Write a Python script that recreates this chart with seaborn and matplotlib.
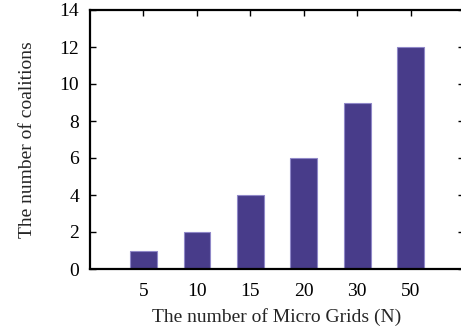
import matplotlib
matplotlib.use("Agg")
import matplotlib.pyplot as plt
import seaborn as sns
import pandas as pd

categories = ["5", "10", "15", "20", "30", "50"]
coalitions = [1, 2, 4, 6, 9, 12]
y_ticks = [0, 2, 4, 6, 8, 10, 12, 14]

sns.set_theme(style="white")
plt.rcParams["font.family"] = ["Liberation Serif", "DejaVu Serif"]

df = pd.DataFrame({"N": categories, "count": coalitions})

fig = plt.figure(figsize=(4.61, 3.33), dpi=100)
ax = fig.add_axes([90 / 461, 64 / 333, 374 / 461, 259 / 333])

sns.barplot(data=df, x="N", y="count", order=categories, color="#483c8a",
            width=0.5, edgecolor="#9088c8", linewidth=0.8, saturation=1, ax=ax)

ax.set_xlim(-1, 6)
ax.set_ylim(0, 14)
ax.set_yticks(y_ticks)
ax.set_xlabel("The number of Micro Grids (N)", fontsize=14, labelpad=6)
ax.set_ylabel("The number of coalitions", fontsize=14, labelpad=17)

for s in ["left", "bottom", "top", "right"]:
    ax.spines[s].set_visible(True)
    ax.spines[s].set_color("black")
    ax.spines[s].set_linewidth(1.6)

ax.tick_params(axis="x", which="both", top=True, bottom=False, direction="in",
               length=4, width=1, labelsize=14, pad=10, colors="black")
ax.tick_params(axis="y", which="both", left=True, right=True, direction="in",
               length=4, width=1, labelsize=14, pad=8, colors="black")

fig.savefig("out.png", dpi=100)
